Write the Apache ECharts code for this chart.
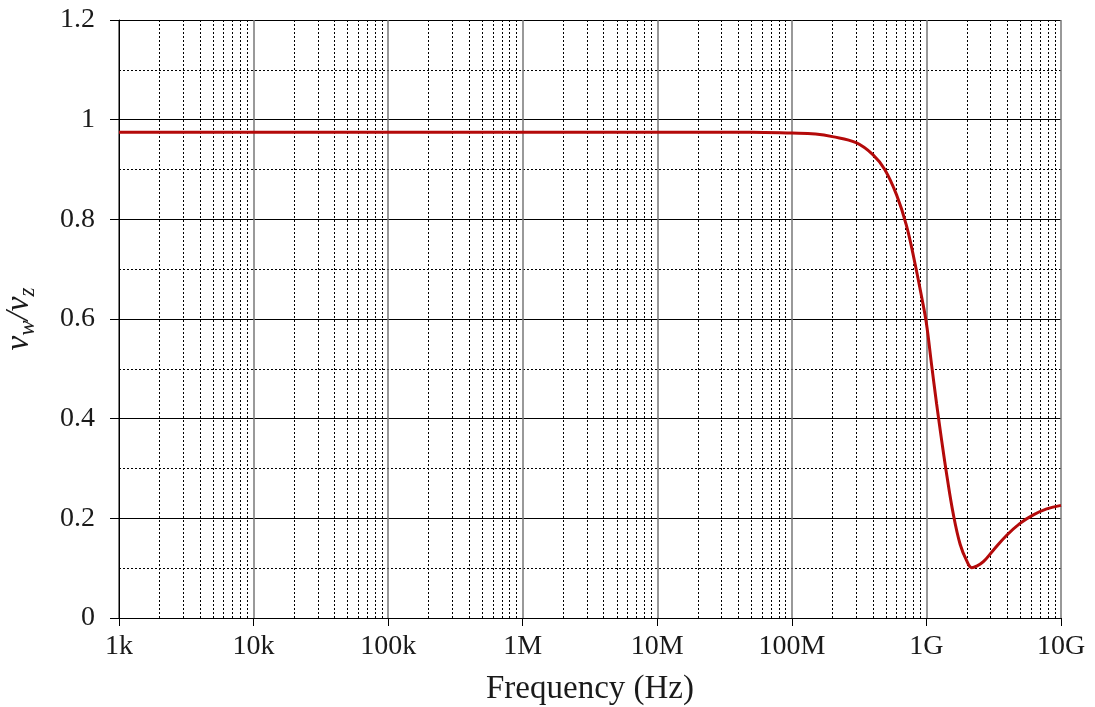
<!DOCTYPE html>
<html>
<head>
<meta charset="utf-8">
<script src="https://cdn.jsdelivr.net/npm/echarts@6/dist/echarts.min.js"></script>
<style>
html,body{margin:0;padding:0;background:#fff;}
#chart{width:1095px;height:707px;}
</style>
</head>
<body>
<div id="chart"></div>
<script>
const freqHz = [1e3, 1e4, 1e5, 1e6, 1e7, 5e7, 1e8, 1.5e8, 2e8, 3e8, 4e8, 4.9e8, 6e8, 7.1e8, 8.2e8, 9.2e8, 1e9, 1.09e9, 1.19e9, 1.3e9, 1.42e9, 1.58e9, 1.78e9, 1.99e9, 2.17e9, 2.36e9, 2.65e9, 3.14e9, 3.95e9, 4.96e9, 6.23e9, 7.83e9, 1e10];
const ratio  = [0.975, 0.975, 0.975, 0.975, 0.975, 0.975, 0.973, 0.971, 0.966, 0.954, 0.930, 0.900, 0.849, 0.788, 0.713, 0.645, 0.591, 0.510, 0.430, 0.355, 0.285, 0.210, 0.148, 0.115, 0.101, 0.104, 0.113, 0.136, 0.166, 0.190, 0.207, 0.219, 0.226];
const decadeTicks = [1e3, 1e4, 1e5, 1e6, 1e7, 1e8, 1e9, 1e10];
const decadeLabels = ['1k', '10k', '100k', '1M', '10M', '100M', '1G', '10G'];
const minorMultipliers = [2, 3, 4, 5, 6, 7, 8, 9];

const minorLines = [];
for (let i = 0; i < decadeTicks.length - 1; i++) {
  for (const m of minorMultipliers) minorLines.push({ xAxis: decadeTicks[i] * m });
}
const labelMap = {};
decadeTicks.forEach((v, i) => { labelMap[Math.round(Math.log10(v))] = decadeLabels[i]; });

const font = 'Liberation Serif, Times New Roman, serif';
const chart = echarts.init(document.getElementById('chart'));
chart.setOption({
  animation: false,
  backgroundColor: '#fff',
  grid: { left: 119, right: 34, top: 20, bottom: 89, containLabel: false, outerBoundsMode: 'none' },
  xAxis: {
    type: 'log',
    logBase: 10,
    min: 1e3,
    max: 1e10,
    name: 'Frequency (Hz)',
    nameLocation: 'middle',
    nameGap: 55,
    nameTextStyle: { fontFamily: font, fontSize: 33, color: '#1a1a1a' },
    axisLine: { show: true, lineStyle: { color: '#000', width: 1 } },
    axisTick: { show: true, length: 8, inside: false, lineStyle: { color: '#000' } },
    axisLabel: {
      fontFamily: font, fontSize: 28, color: '#1a1a1a', margin: 15,
      formatter: function (v) { return labelMap[Math.round(Math.log10(v))] || ''; }
    },
    splitLine: { show: true, lineStyle: { color: '#777', width: 1.5 } }
  },
  yAxis: {
    type: 'value',
    min: 0,
    max: 1.2,
    interval: 0.2,
    name: '{v|v}{s|w}{v|/v}{s|z}',
    nameLocation: 'middle',
    nameGap: 80,
    nameRotate: 90,
    nameTextStyle: {
      fontFamily: font, color: '#1a1a1a',
      rich: {
        v: { fontFamily: font, fontStyle: 'italic', fontSize: 33, color: '#1a1a1a' },
        s: { fontFamily: font, fontStyle: 'italic', fontSize: 23, color: '#1a1a1a', verticalAlign: 'bottom', padding: [16, 0, 0, 0] }
      }
    },
    axisLine: { show: true, lineStyle: { color: '#000', width: 1 } },
    axisTick: { show: true, length: 9, inside: false, lineStyle: { color: '#000' } },
    axisLabel: {
      fontFamily: font, fontSize: 28, color: '#1a1a1a', margin: 24,
      formatter: function (v) { return String(parseFloat(v.toFixed(1))); }
    },
    splitLine: { show: true, lineStyle: { color: '#000', width: 1 } },
    minorTick: { show: false, splitNumber: 2 },
    minorSplitLine: { show: true, lineStyle: { color: '#000', width: 1, type: [2, 2] } }
  },
  series: [{
    type: 'line',
    data: freqHz.map((f, i) => [f, ratio[i]]),
    smooth: 0.4,
    symbol: 'none',
    lineStyle: { color: '#b40a0a', width: 3 },
    z: 5,
    markLine: {
      silent: true,
      symbol: 'none',
      label: { show: false },
      lineStyle: { color: '#000', width: 1, type: [2, 2] },
      data: minorLines,
      z: 1
    }
  }]
});
</script>
</body>
</html>
